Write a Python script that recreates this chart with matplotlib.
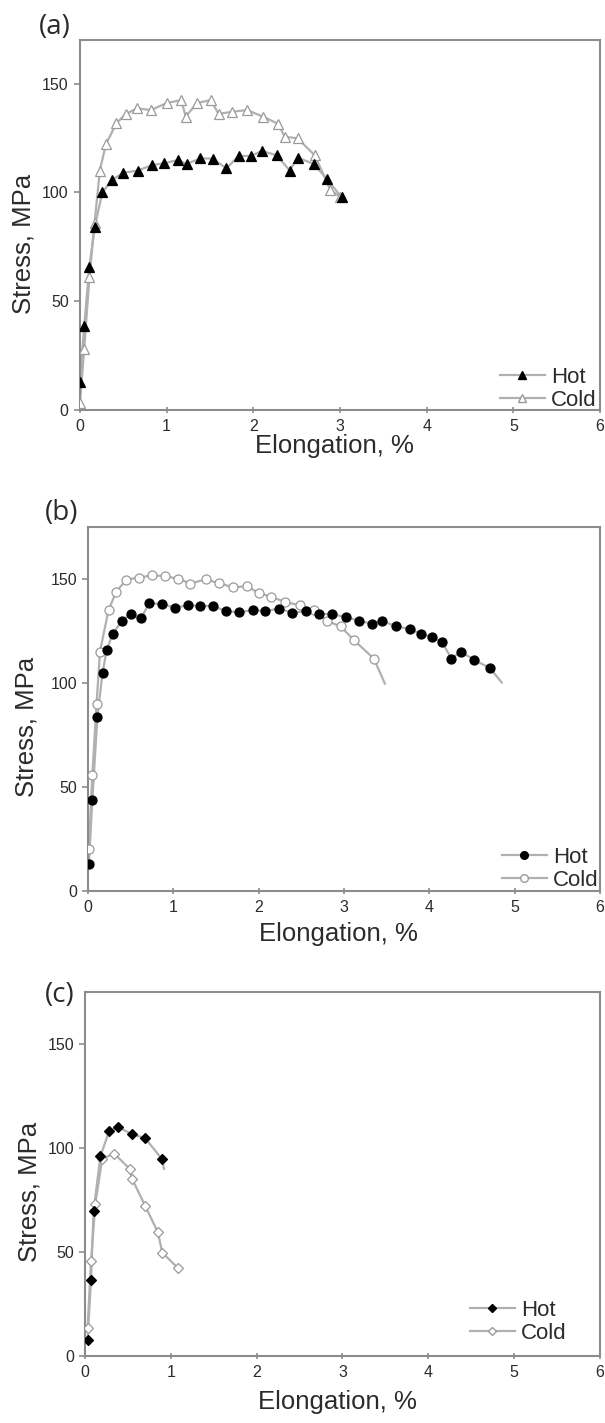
import matplotlib.pyplot as plt

plt.rcParams['font.family'] = ['Liberation Sans', 'DejaVu Sans']

# (a) tensile curves, triangles
a_hot_x = [0.0, 0.05, 0.11, 0.17, 0.26, 0.37, 0.5, 0.67, 0.83, 0.97, 1.13, 1.23, 1.39, 1.53,
           1.69, 1.83, 1.97, 2.10, 2.27, 2.42, 2.51, 2.70, 2.85, 3.02]
a_hot_y = [13, 38.6, 65.8, 84, 100, 105.7, 109, 110, 112.5, 113.3, 114.8, 113, 115.6, 115.5,
           111, 116.7, 116.7, 119, 117, 110, 116, 113, 106, 97.7]
a_cold_x = [0.0, 0.05, 0.11, 0.17, 0.23, 0.3, 0.42, 0.53, 0.66, 0.82, 1.0, 1.17, 1.22, 1.35,
            1.51, 1.6, 1.75, 1.93, 2.11, 2.29, 2.36, 2.51, 2.71, 2.89, 3.0]
a_cold_y = [3, 28, 61, 86, 110, 122, 131.7, 136, 138.6, 137.8, 141, 142.4, 134.8, 141,
            142.4, 136, 137, 137.8, 134.8, 131.4, 125.6, 124.8, 117, 101, 98]

# (b) tensile curves, circles
b_hot_x = [0.01, 0.05, 0.11, 0.17, 0.22, 0.29, 0.4, 0.5, 0.62, 0.72, 0.87, 1.02, 1.17, 1.31,
           1.46, 1.62, 1.77, 1.93, 2.08, 2.24, 2.39, 2.56, 2.71, 2.86, 3.02, 3.18, 3.33, 3.45,
           3.61, 3.78, 3.9, 4.03, 4.15, 4.26, 4.37, 4.53, 4.71]
b_hot_y = [13, 43.6, 83.7, 105, 116, 123.7, 130, 133, 131, 138.5, 137.8, 136.2, 137.3, 137,
           137, 134.5, 134, 135, 134.6, 135.7, 133.8, 134.5, 133.3, 133, 131.7, 129.8, 128.5,
           129.8, 127.2, 125.8, 123.7, 122, 119.7, 111.7, 115, 111, 107.2]
b_hot_end = (4.85, 100.2)
b_cold_x = [0.01, 0.05, 0.1, 0.14, 0.24, 0.33, 0.45, 0.6, 0.75, 0.9, 1.05, 1.2, 1.38, 1.53,
            1.7, 1.86, 2.0, 2.15, 2.31, 2.48, 2.65, 2.8, 2.96, 3.12, 3.35]
b_cold_y = [20, 55.6, 90, 115, 135, 143.8, 149.7, 150.6, 151.8, 151.3, 150.2, 147.8, 149.8,
            148, 146, 146.5, 143.3, 141.3, 139, 137.3, 135.3, 129.8, 127.2, 120.5, 111.7]
b_cold_end = (3.48, 99.7)

# (c) tensile curves, diamonds
c_hot_x = [0.03, 0.07, 0.1, 0.18, 0.28, 0.39, 0.55, 0.7, 0.9]
c_hot_y = [7.7, 36.5, 69.8, 96, 108, 110, 106.5, 104.8, 94.5]
c_hot_end = (0.92, 90)
c_cold_x = [0.03, 0.07, 0.12, 0.2, 0.34, 0.52, 0.55, 0.7, 0.85, 0.9, 1.08]
c_cold_y = [13.4, 45.6, 73, 94.8, 97.3, 90, 85, 72.3, 59.4, 49.7, 42.4]

xticks = [0, 1, 2, 3, 4, 5, 6]
yticks = [0, 50, 100, 150]

frame = '#8c8c8c'
line_col = '#b0b0b0'
txt = '#2b2b2b'

fig = plt.figure(figsize=(6.05, 14.23), dpi=100)

# label, rect, ymax, marker, hot, cold, legend anchor, panel-label pos, xlabel offset, ylabel x
panels = [
    ('(a)', [0.132, 0.7119, 0.860, 0.2600], 170, '^',
     (a_hot_x, a_hot_y, None), (a_cold_x, a_cold_y, None),
     (0.808, 0.116), (-0.079, 1.035), -0.098, -0.108),
    ('(b)', [0.1455, 0.3739, 0.846, 0.2558], 175, 'o',
     (b_hot_x, b_hot_y, b_hot_end), (b_cold_x, b_cold_y, b_cold_end),
     (0.809, 0.121), (-0.084, 1.038), -0.118, -0.121),
    ('(c)', [0.1405, 0.0471, 0.851, 0.2558], 175, 'D',
     (c_hot_x, c_hot_y, c_hot_end), (c_cold_x, c_cold_y, None),
     (0.748, 0.154), (-0.078, 0.992), -0.126, -0.107),
]

for label, rect, ytop, mk, hot, cold, legpos, labpos, xl_off, yl_x in panels:
    ax = fig.add_axes(rect)
    ms = 6.5 if mk != 'D' else 5.5
    for (xs, ys, end), face in [(cold, 'white'), (hot, 'black')]:
        lx = list(xs) + ([end[0]] if end else [])
        ly = list(ys) + ([end[1]] if end else [])
        ax.plot(lx, ly, color=line_col, lw=1.6, zorder=2)
        ax.plot(xs, ys, linestyle='none', marker=mk, ms=ms, mfc=face,
                mec='black' if face == 'black' else '#9a9a9a', mew=0.9, zorder=3)
    # legend handles
    h_hot, = ax.plot([], [], color=line_col, lw=1.6, marker=mk, ms=ms - 1,
                     mfc='black', mec='black', label='Hot')
    h_cold, = ax.plot([], [], color=line_col, lw=1.6, marker=mk, ms=ms - 1,
                      mfc='white', mec='#9a9a9a', label='Cold')
    ax.legend(handles=[h_hot, h_cold], loc='upper left', bbox_to_anchor=legpos,
              frameon=False, fontsize=16, handlelength=2.0, handletextpad=0.3,
              labelspacing=0.08, borderpad=0, borderaxespad=0, labelcolor=txt)

    ax.set_xlim(0, 6)
    ax.set_ylim(0, ytop)
    ax.set_xticks(xticks)
    ax.set_yticks(yticks)
    for s in ax.spines.values():
        s.set_color(frame)
        s.set_linewidth(1.5)
    ax.tick_params(axis='x', direction='inout', length=5, width=1.2, color=frame,
                   labelsize=11.5, labelcolor=txt, pad=4)
    ax.tick_params(axis='y', direction='out', length=4, width=1.2, color=frame,
                   labelsize=11.5, labelcolor=txt, pad=4)
    ax.set_xlabel('Elongation, %', fontsize=18.5, color=txt, va='center')
    ax.xaxis.set_label_coords(0.49, xl_off)
    ax.set_ylabel('Stress, MPa', fontsize=18.5, color=txt, va='center')
    ax.yaxis.set_label_coords(yl_x, 0.45)
    ax.text(labpos[0], labpos[1], label, transform=ax.transAxes, fontsize=20,
            family=['Open Sans', 'DejaVu Sans'], color=txt, ha='left', va='center')

fig.savefig('out.png', dpi=100)
